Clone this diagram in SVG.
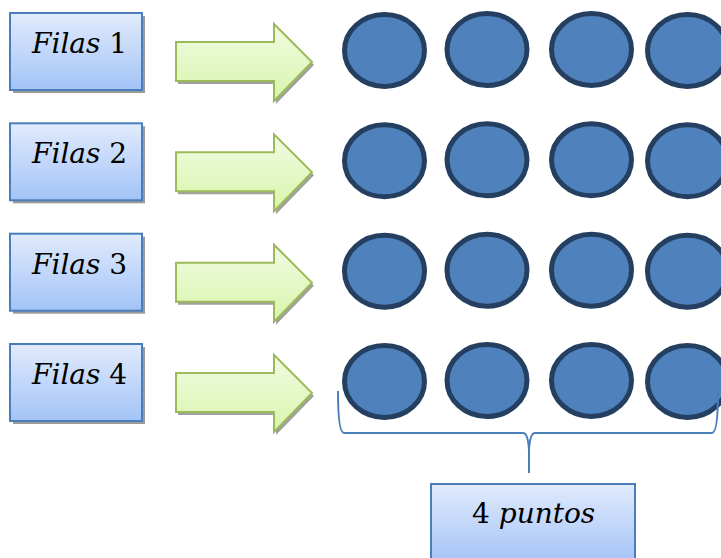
<svg xmlns="http://www.w3.org/2000/svg" width="721" height="558" viewBox="0 0 721 558">
<defs>
<linearGradient id="gb" x1="0" y1="0" x2="0" y2="1"><stop offset="0" stop-color="#e1ebfc"/><stop offset="1" stop-color="#a3c3f7"/></linearGradient>
<linearGradient id="gg" x1="0" y1="0" x2="0" y2="1"><stop offset="0" stop-color="#f1fbe3"/><stop offset="1" stop-color="#d8f5ab"/></linearGradient>
<path id="arr" d="M176,42 H274 V24 L312,62 L274,101 V81 H176 Z"/>
</defs>
<style>
.box{fill:url(#gb);stroke:#4a7ebb;stroke-width:2}
.sh{fill:#9a9a9a}
.ar{fill:url(#gg);stroke:#9bbb59;stroke-width:2;stroke-linejoin:miter}
.ash{fill:#a0a0a0}
.dot{fill:#4f81bd;stroke:#243f60;stroke-width:5}
.t{font-family:"DejaVu Serif","Liberation Serif",serif;font-size:28px;fill:#000}
.i{font-style:italic}
.br{fill:none;stroke:#4a7ebb;stroke-width:2}
</style>
<g id="row1">
<rect class="sh" x="13" y="16" width="132" height="77"/>
<rect class="box" x="10" y="13" width="132" height="77"/>
<text class="t" x="32" y="53"><tspan class="i">Filas</tspan> 1</text>
<use href="#arr" class="ash" transform="translate(2,3)"/>
<use href="#arr" class="ar"/>
<ellipse class="dot" cx="384.5" cy="50.5" rx="40" ry="36"/>
<ellipse class="dot" cx="487" cy="49.5" rx="40" ry="36"/>
<ellipse class="dot" cx="591.5" cy="49.5" rx="40" ry="36"/>
<ellipse class="dot" cx="687.5" cy="50.5" rx="40" ry="36"/>
</g>
<g id="row2" transform="translate(0,110.3)">
<rect class="sh" x="13" y="16" width="132" height="77"/>
<rect class="box" x="10" y="13" width="132" height="77"/>
<text class="t" x="32" y="53"><tspan class="i">Filas</tspan> 2</text>
<use href="#arr" class="ash" transform="translate(2,3)"/>
<use href="#arr" class="ar"/>
<ellipse class="dot" cx="384.5" cy="50.5" rx="40" ry="36"/>
<ellipse class="dot" cx="487" cy="49.5" rx="40" ry="36"/>
<ellipse class="dot" cx="591.5" cy="49.5" rx="40" ry="36"/>
<ellipse class="dot" cx="687.5" cy="50.5" rx="40" ry="36"/>
</g>
<g id="row3" transform="translate(0,220.7)">
<rect class="sh" x="13" y="16" width="132" height="77"/>
<rect class="box" x="10" y="13" width="132" height="77"/>
<text class="t" x="32" y="53"><tspan class="i">Filas</tspan> 3</text>
<use href="#arr" class="ash" transform="translate(2,3)"/>
<use href="#arr" class="ar"/>
<ellipse class="dot" cx="384.5" cy="50.5" rx="40" ry="36"/>
<ellipse class="dot" cx="487" cy="49.5" rx="40" ry="36"/>
<ellipse class="dot" cx="591.5" cy="49.5" rx="40" ry="36"/>
<ellipse class="dot" cx="687.5" cy="50.5" rx="40" ry="36"/>
</g>
<g id="row4" transform="translate(0,331)">
<rect class="sh" x="13" y="16" width="132" height="77"/>
<rect class="box" x="10" y="13" width="132" height="77"/>
<text class="t" x="32" y="53"><tspan class="i">Filas</tspan> 4</text>
<use href="#arr" class="ash" transform="translate(2,3)"/>
<use href="#arr" class="ar"/>
<ellipse class="dot" cx="384.5" cy="50.5" rx="40" ry="36"/>
<ellipse class="dot" cx="487" cy="49.5" rx="40" ry="36"/>
<ellipse class="dot" cx="591.5" cy="49.5" rx="40" ry="36"/>
<ellipse class="dot" cx="687.5" cy="50.5" rx="40" ry="36"/>
</g>
<g id="brace">
<path class="br" d="M338,391 Q338,433 344,433 H523 Q528,433 529,450 V473 M529,450 Q530,433 535,433 H712 Q718,433 718,391"/>
</g>
<g id="total">
<rect class="box" x="431" y="484" width="204" height="80"/>
<text class="t" x="472" y="523">4 <tspan class="i">puntos</tspan></text>
</g>
</svg>
